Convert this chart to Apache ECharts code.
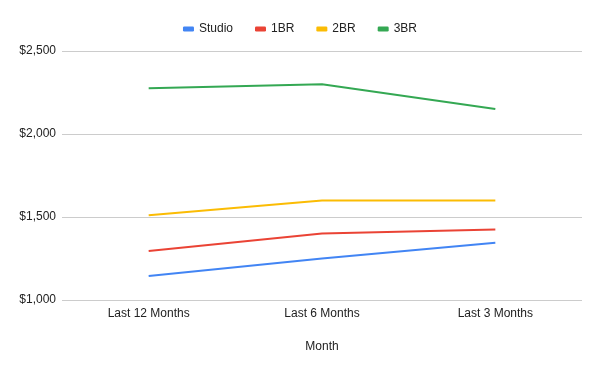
<!DOCTYPE html>
<html><head><meta charset="utf-8">
<script src="https://cdn.jsdelivr.net/npm/echarts@6/dist/echarts.min.js"></script>
<style>html,body{margin:0;padding:0;background:#fff}#c{width:600px;height:371px}</style>
</head><body><div id="c"></div>
<script>
const categories = ["Last 12 Months", "Last 6 Months", "Last 3 Months"];
const studio = [1145, 1250, 1345];
const br1 = [1295, 1400, 1425];
const br2 = [1510, 1600, 1600];
const br3 = [2275, 2300, 2150];
const seriesNames = ["Studio", "1BR", "2BR", "3BR"];
const colors = ["#4285F4", "#EA4335", "#FBBC04", "#34A853"];
const values = [studio, br1, br2, br3];

const chart = echarts.init(document.getElementById('c'), null, {renderer: 'canvas'});
const font = "Liberation Sans, Arial, sans-serif";
chart.setOption({
  animation: false,
  color: colors,
  textStyle: {fontFamily: font},
  legend: {
    top: 18, left: 'center',
    itemWidth: 11, itemHeight: 5, itemGap: 22,
    icon: 'roundRect',
    textStyle: {fontFamily: font, fontSize: 12, color: '#222'},
    data: seriesNames
  },
  grid: {left: 62, right: 18, top: 51, bottom: 71},
  xAxis: {
    type: 'category', data: categories, boundaryGap: true,
    name: 'Month', nameLocation: 'middle', nameGap: 41,
    nameTextStyle: {fontFamily: font, fontSize: 12, color: '#222'},
    axisLine: {show: false}, axisTick: {show: false},
    axisLabel: {fontFamily: font, fontSize: 12, color: '#222', margin: 8}
  },
  yAxis: {
    type: 'value', min: 1000, max: 2500, interval: 500,
    axisLine: {show: false}, axisTick: {show: false},
    splitLine: {lineStyle: {color: '#cccccc', width: 1}},
    axisLabel: {fontFamily: font, fontSize: 12, color: '#222', margin: 6,
      padding: [3, 0, 0, 0],
      formatter: v => '$' + v.toLocaleString('en-US')}
  },
  series: seriesNames.map((n, i) => ({
    name: n, type: 'line', data: values[i], showSymbol: false, symbol: 'none',
    lineStyle: {width: 2, color: colors[i]}, itemStyle: {color: colors[i]}
  }))
});
</script></body></html>
